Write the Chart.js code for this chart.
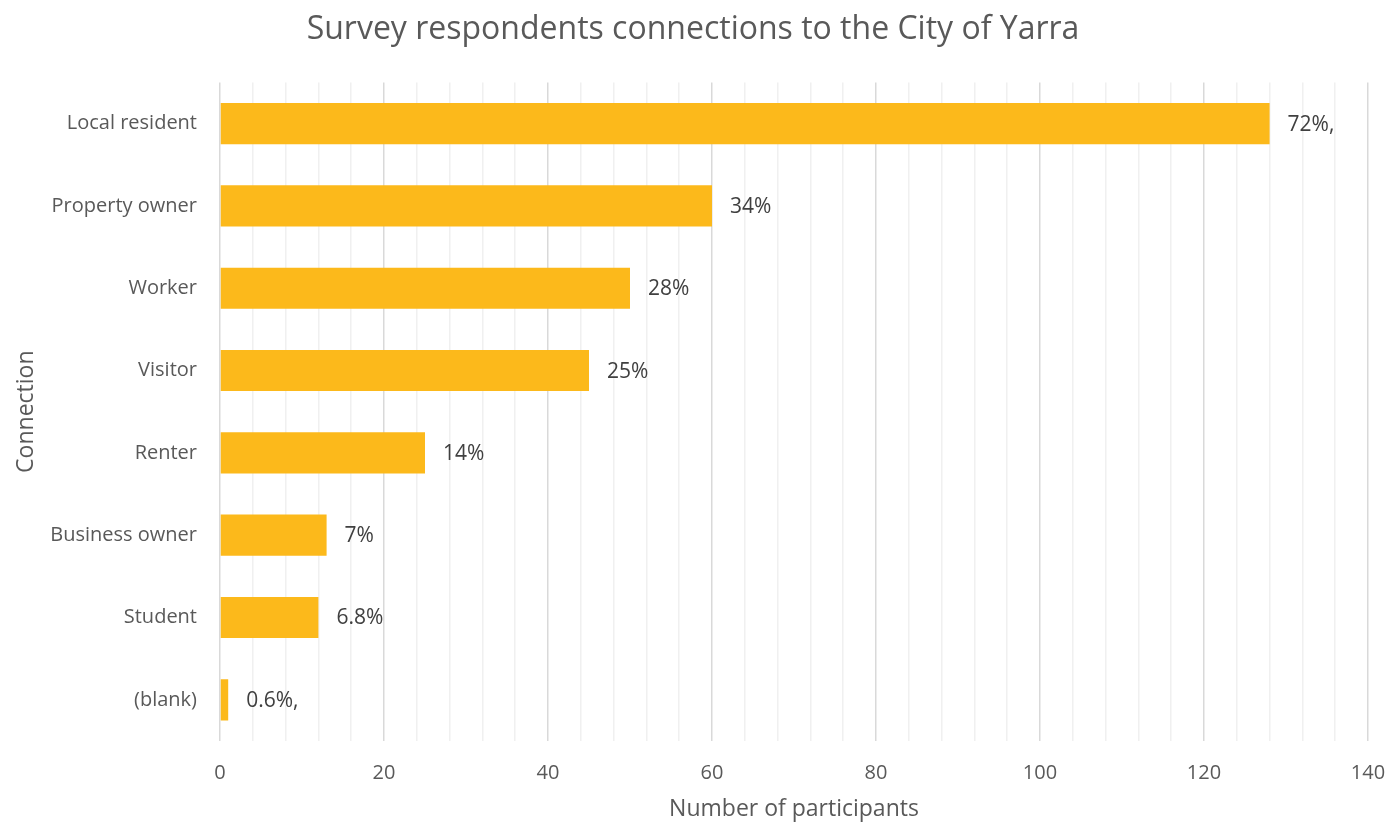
<!DOCTYPE html>
<html>
<head>
<meta charset="utf-8">
<script src="https://cdn.jsdelivr.net/npm/chart.js@4.4.1/dist/chart.umd.min.js"></script>
<style>
  html, body { margin: 0; padding: 0; background: #fff; }
  #wrap { width: 1389px; height: 823px; }
</style>
</head>
<body>
<div id="wrap"><canvas id="chart" width="1389" height="823"></canvas></div>
<script>
const categories = ['Local resident', 'Property owner', 'Worker', 'Visitor', 'Renter', 'Business owner', 'Student', '(blank)'];
const participants = [128, 60, 50, 45, 25, 13, 12, 1];
const shareLabels = ['72%,', '34%', '28%', '25%', '14%', '7%', '6.8%', '0.6%,'];

const FONT = '"Open Sans", "Liberation Sans", sans-serif';

// writes the percentage just past the end of each bar
const barLabels = {
    id: 'barLabels',
    afterDatasetsDraw(chart) {
        const ctx = chart.ctx;
        const meta = chart.getDatasetMeta(0);
        ctx.save();
        ctx.font = '21px ' + FONT;
        ctx.fillStyle = '#404040';
        ctx.textAlign = 'left';
        ctx.textBaseline = 'middle';
        meta.data.forEach((bar, i) => {
            ctx.fillText(shareLabels[i], bar.x + 18, bar.y + 1);
        });
        ctx.restore();
    }
};

const ctx = document.getElementById('chart').getContext('2d');
new Chart(ctx, {
    type: 'bar',
    data: {
        labels: categories,
        datasets: [{
            label: 'Number of participants',
            data: participants,
            backgroundColor: '#fcb91b',
            borderWidth: 0,
            barPercentage: 0.5,
            categoryPercentage: 1.0
        }]
    },
    options: {
        indexAxis: 'y',
        responsive: false,
        animation: false,
        layout: { padding: { left: 18, right: 21, top: 0, bottom: 0 } },
        plugins: {
            legend: { display: false },
            tooltip: { enabled: false },
            title: {
                display: true,
                text: 'Survey respondents connections to the City of Yarra',
                color: '#595959',
                font: { family: FONT, size: 32, weight: 'normal' },
                padding: { top: 11, bottom: 33 }
            }
        },
        scales: {
            x: {
                min: 0,
                max: 140,
                afterFit: (scale) => {
                    scale.height = 82;
                    scale.paddingLeft = 0;
                    scale.paddingRight = 0;
                },
                ticks: {
                    stepSize: 4,
                    autoSkip: false,
                    maxRotation: 0,
                    color: '#595959',
                    font: { family: FONT, size: 20 },
                    padding: 20,
                    callback: (v) => (v % 20 === 0 ? v : '')
                },
                grid: {
                    drawTicks: false,
                    lineWidth: 1.5,
                    color: (c) => (c.tick && c.tick.value % 20 === 0 ? '#d9d9d9' : '#f0f0f0')
                },
                border: { display: false },
                title: {
                    display: true,
                    text: 'Number of participants',
                    color: '#595959',
                    font: { family: FONT, size: 23 },
                    padding: { top: 12, bottom: 0 }
                }
            },
            y: {
                afterFit: (scale) => { scale.width = 202; },
                ticks: {
                    color: '#595959',
                    font: { family: FONT, size: 20 },
                    padding: 23
                },
                grid: { display: false, drawTicks: false },
                border: { display: false },
                title: {
                    display: true,
                    text: 'Connection',
                    color: '#595959',
                    font: { family: FONT, size: 23 },
                    padding: { top: -5, bottom: 0 }
                }
            }
        }
    },
    plugins: [barLabels]
});
</script>
</body>
</html>
